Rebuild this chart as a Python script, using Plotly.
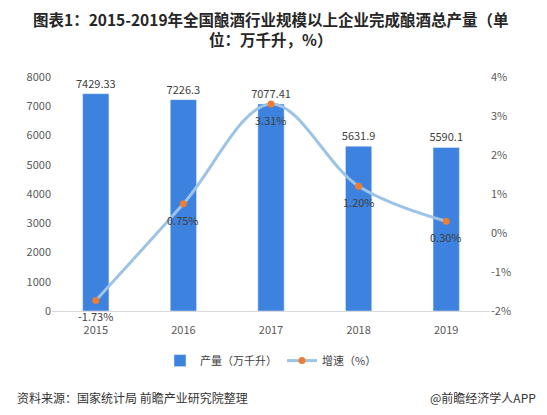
import plotly.graph_objects as go

years = ["2015", "2016", "2017", "2018", "2019"]
output = [7429.33, 7226.3, 7077.41, 5631.9, 5590.1]
growth = [-1.73, 0.75, 3.31, 1.20, 0.30]
output_labels = ["7429.33", "7226.3", "7077.41", "5631.9", "5590.1"]
growth_labels = ["-1.73%", "0.75%", "3.31%", "1.20%", "0.30%"]
left_ticks = [0, 1000, 2000, 3000, 4000, 5000, 6000, 7000, 8000]
right_ticks = [-2, -1, 0, 1, 2, 3, 4]

FONT = "Noto Sans CJK SC"

fig = go.Figure()
fig.add_trace(go.Bar(
    x=years, y=output, name="产量（万千升）",
    marker=dict(color="#3D82DE"), width=0.3,
    text=output_labels, textposition="outside", cliponaxis=False,
    constraintext="none",
    textfont=dict(size=11, color="#404040", family=FONT),
))
fig.add_trace(go.Scatter(
    x=years, y=growth, name="增速（%）", yaxis="y2",
    mode="lines+markers",
    line=dict(color="#9DC3E6", width=3, shape="spline", smoothing=1.0),
    marker=dict(color="#ED7D31", size=7),
    cliponaxis=False,
))
for i, (yv, t) in enumerate(zip(growth, growth_labels)):
    fig.add_annotation(x=i, y=yv, xref="x", yref="y2", text=t, showarrow=False,
                       yshift=-16, xanchor="center", yanchor="middle",
                       font=dict(size=11, color="#404040", family=FONT))

fig.update_layout(
    width=547, height=415,
    margin=dict(l=52, r=57, t=77, b=104),
    paper_bgcolor="white", plot_bgcolor="white",
    font=dict(family=FONT, color="#595959", size=11),
    xaxis=dict(type="category", showline=True, linecolor="#D9D9D9", linewidth=1, ticks="",
               ticklabelstandoff=9,
               tickfont=dict(size=11, color="#595959")),
    yaxis=dict(range=[0, 8000], tickvals=left_ticks, showgrid=False, zeroline=False,
               ticks="", tickfont=dict(size=11, color="#595959")),
    yaxis2=dict(range=[-2, 4], tickvals=right_ticks,
                ticktext=[f"{v}%" for v in right_ticks],
                overlaying="y", side="right", showgrid=False, zeroline=False,
                ticks="", tickfont=dict(size=11, color="#595959")),
    legend=dict(orientation="h", x=0.5, xanchor="center", y=-0.15, yanchor="top",
                font=dict(size=11, color="#404040")),
    showlegend=True,
)

fig.add_annotation(
    text="<b>图表1：2015-2019年全国酿酒行业规模以上企业完成酿酒总产量（单<br>位：万千升，%）</b>",
    xref="paper", yref="paper", x=0.5, y=(311 - 6) / 234, xanchor="center", yanchor="top",
    showarrow=False, align="center",
    font=dict(size=15.5, color="#262626", family=FONT))

fig.add_annotation(text="资料来源：国家统计局 前瞻产业研究院整理", xref="paper", yref="paper",
                   x=-0.085, y=-0.37, xanchor="left", yanchor="middle", showarrow=False,
                   font=dict(size=12, color="#333333", family=FONT))
fig.add_annotation(text="@前瞻经济学人APP", xref="paper", yref="paper",
                   x=1.11, y=-0.37, xanchor="right", yanchor="middle", showarrow=False,
                   font=dict(size=12, color="#333333", family=FONT))

fig.write_html("out.html")
